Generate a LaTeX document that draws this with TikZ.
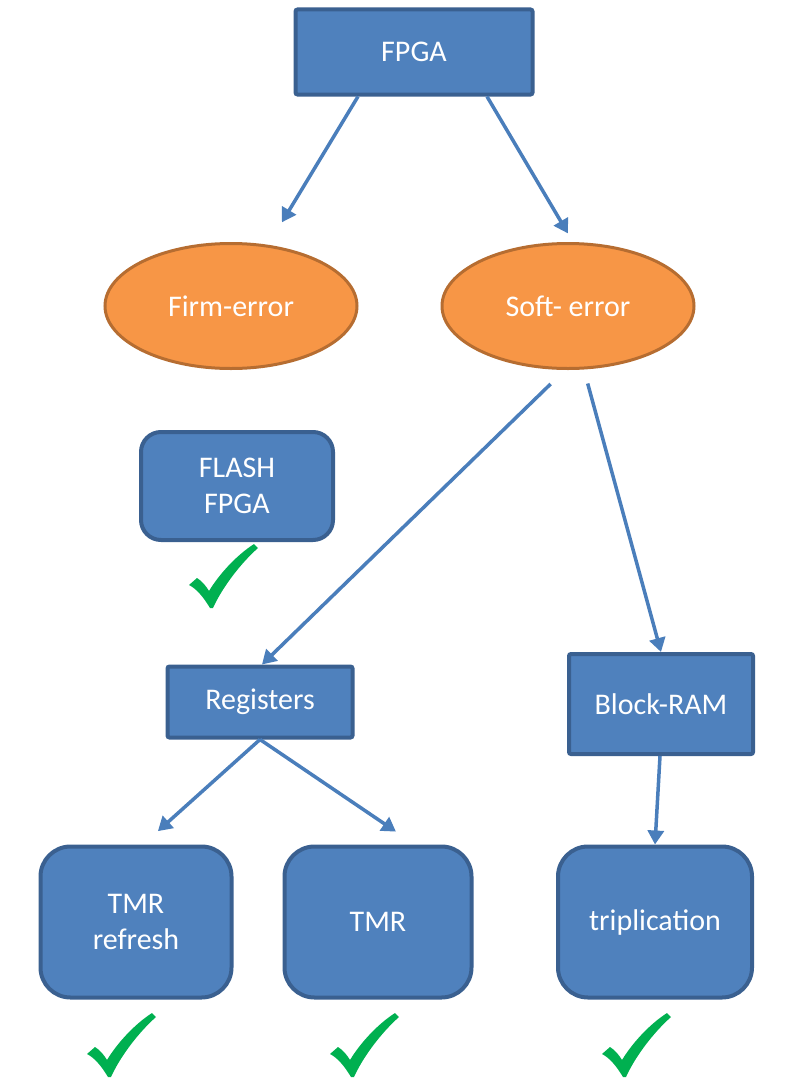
\documentclass[tikz,border=0pt]{standalone}
\usepackage{fontspec}
\setmainfont{Carlito}
\usetikzlibrary{shapes.geometric,arrows.meta}
\definecolor{boxblue}{HTML}{4F81BD}
\definecolor{boxedge}{HTML}{3A6090}
\definecolor{errorange}{HTML}{F79646}
\definecolor{erredge}{HTML}{B66D31}
\definecolor{linkblue}{HTML}{4A7EBB}
\definecolor{okgreen}{HTML}{00B050}
\begin{document}
\begin{tikzpicture}[x=1pt,y=-1pt,
    blk/.style = {draw=boxedge, fill=boxblue, line width=4pt, text=white, align=center,
                  font=\fontsize{30}{36}\selectfont, rounded corners=2pt, inner sep=0pt},
    rbox/.style = {blk, rounded corners=20pt},
    err/.style = {ellipse, draw=erredge, fill=errorange, line width=3pt, text=white,
                  font=\fontsize{30}{36}\selectfont, minimum width=252pt, minimum height=125pt},
    link/.style = {draw=linkblue, line width=3.5pt, -{Triangle[length=14pt,width=16pt]}},
    okmark/.pic = {
        \fill[okgreen] (0,0) .. controls (-6,-10) and (-13,-19) .. (-21,-23)
            -- (-13,-30) .. controls (-8,-27) and (-4,-22) .. (-1,-17)
            .. controls (10,-35) and (27,-53) .. (44,-64) -- (48,-60)
            .. controls (30,-44) and (12,-20) .. (3,0) -- cycle;
    }]
    \useasboundingbox (0,0) rectangle (793,1081);

    \node[blk, minimum width=237pt, minimum height=85pt] (fpga) at (414,52) {FPGA};
    \node[err] (firm) at (231,306) {Firm-error};
    \node[err] (soft) at (568,306) {Soft- error};
    \node[rbox, minimum width=192pt, minimum height=108pt] (flash) at (237,486) {FLASH\\FPGA};
    \node[blk, minimum width=185pt, minimum height=71pt] (regs) at (260,702) {Registers};
    \node[blk, minimum width=184pt, minimum height=100pt] (bram) at (661,704) {Block-RAM};
    \node[rbox, rounded corners=30pt, minimum width=191pt, minimum height=151pt] (tmrref) at (136,922) {TMR\\refresh};
    \node[rbox, rounded corners=30pt, minimum width=187pt, minimum height=151pt] (tmr) at (378,922) {TMR};
    \node[rbox, rounded corners=30pt, minimum width=194pt, minimum height=151pt] (tripl) at (655,922) {triplication};

    % connectors
    \draw[link, shorten >=23pt] ([xshift=-56pt]fpga.south) -- ([xshift=39pt]firm.north);
    \draw[link, shorten >=10pt] ([xshift=73pt]fpga.south) -- ([xshift=5pt]soft.north);
    \draw[link, shorten <=20pt] ([xshift=-3pt]soft.south) -- ([xshift=2pt]regs.north);
    \draw[link, shorten <=14pt] ([xshift=16pt]soft.south) -- (bram.north);
    \draw[link, shorten >=20pt] (regs.south) -- ([xshift=7pt]tmrref.north);
    \draw[link, shorten >=23pt] (regs.south) -- ([xshift=37pt]tmr.north);
    \draw[link] ([xshift=-1pt]bram.south) -- (tripl.north);

    % ticks
    \pic at (210,608) {okmark};
    \pic at (108,1077) {okmark};
    \pic at (351,1077) {okmark};
    \pic at (623,1077) {okmark};
\end{tikzpicture}
\end{document}
